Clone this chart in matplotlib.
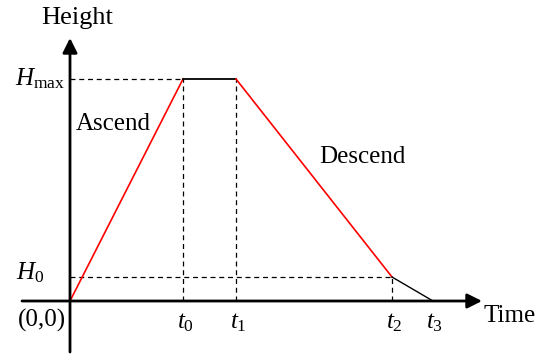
import matplotlib
matplotlib.use("Agg")
import matplotlib.pyplot as plt

plt.rcParams['font.family'] = ['Liberation Serif', 'DejaVu Serif']
plt.rcParams['mathtext.fontset'] = 'custom'
plt.rcParams['mathtext.rm'] = 'Liberation Serif'
plt.rcParams['mathtext.it'] = 'Liberation Serif:italic'

# schematic values (arbitrary units)
t_marks = [0, 113, 166, 322, 363]          # 0, t0, t1, t2, t3
t_labels = [r'$t_0$', r'$t_1$', r'$t_2$', r'$t_3$']
h_max = 222
h_0 = 24
ascend_t = [0, 113]
ascend_h = [0, 222]
hold_t = [113, 166]
hold_h = [222, 222]
descend_t = [166, 322]
descend_h = [222, 24]
land_t = [322, 363]
land_h = [24, 0]

fig = plt.figure(figsize=(5.54, 3.55), dpi=100)
ax = fig.add_axes([0, 0, 1, 1])
ax.set_xlim(-70, 484)
ax.set_ylim(-54, 301)
ax.axis('off')

# axes with arrows
ax.annotate('', xy=(412, 0), xytext=(-48, 0),
            arrowprops=dict(arrowstyle='-|>', lw=2, color='k', mutation_scale=22,
                            shrinkA=0, shrinkB=0))
ax.annotate('', xy=(0, 263), xytext=(0, -51),
            arrowprops=dict(arrowstyle='-|>', lw=2, color='k', mutation_scale=22,
                            shrinkA=0, shrinkB=0))

# guide lines
dash = dict(color='k', lw=0.9, ls=(0, (4, 3)))
ax.plot([0, t_marks[1]], [h_max, h_max], **dash)
ax.plot([t_marks[1], t_marks[1]], [0, h_max], **dash)
ax.plot([t_marks[2], t_marks[2]], [0, h_max], **dash)
ax.plot([0, t_marks[3]], [h_0, h_0], **dash)
ax.plot([t_marks[3], t_marks[3]], [0, h_0], **dash)

# profile
ax.plot(ascend_t, ascend_h, color='red', lw=1.2)
ax.plot(hold_t, hold_h, color='k', lw=1.3)
ax.plot(descend_t, descend_h, color='red', lw=1.2)
ax.plot(land_t, land_h, color='k', lw=1.0)

fs = 18
ax.text(7, 283, 'Height', fontsize=19, ha='center', va='center')
ax.text(413, -15, 'Time', fontsize=fs, ha='left', va='center')
ax.text(-4, -19, '(0,0)', fontsize=fs, ha='right', va='center')
ax.text(-5, h_max, r'$H_{\rm max}$', fontsize=fs, ha='right', va='center')
ax.text(-26, h_0 + 4, r'$H_0$', fontsize=fs, ha='right', va='center')
ax.text(6, 177, 'Ascend', fontsize=fs, ha='left', va='center')
ax.text(249, 144, 'Descend', fontsize=fs, ha='left', va='center')
for x, lab in zip(t_marks[1:], t_labels):
    ax.text(x + 2, -22, lab, fontsize=fs, ha='center', va='center')

fig.savefig('out.png', dpi=100)
